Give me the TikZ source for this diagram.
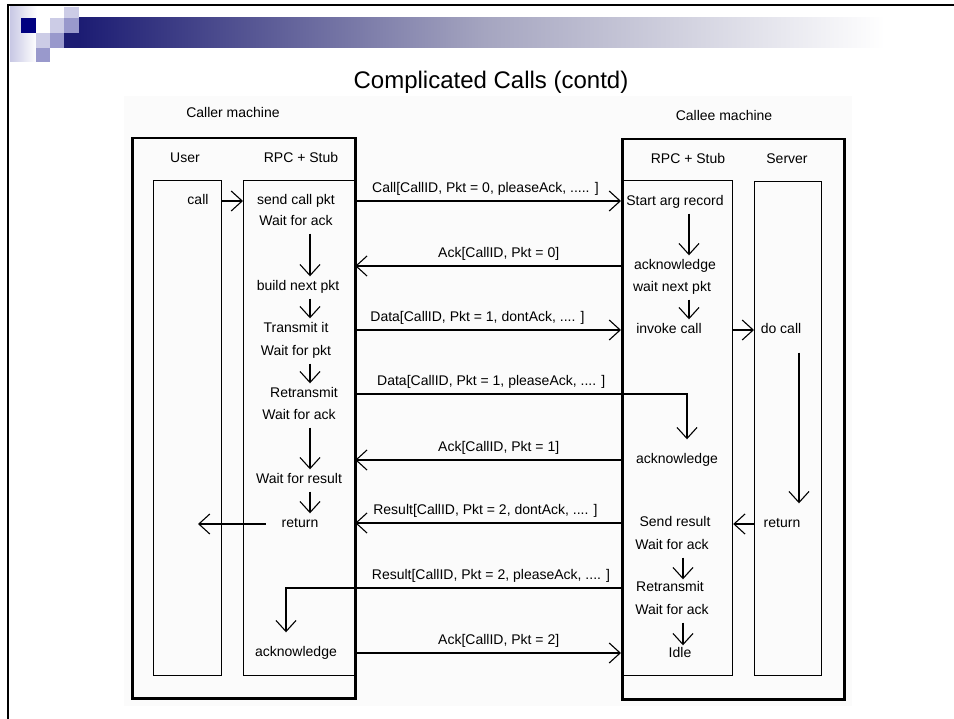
\documentclass[tikz,border=0pt]{standalone}
\usepackage{fontspec}
\setmainfont{Liberation Sans}
\usetikzlibrary{arrows.meta}

\definecolor{slidenavy}{RGB}{0,0,128}
\definecolor{barnavy}{RGB}{28,28,115}
\definecolor{barmid}{RGB}{165,165,192}
\definecolor{sqlight}{RGB}{204,204,230}
\definecolor{sqmid}{RGB}{153,153,204}
\definecolor{striplav}{RGB}{200,200,228}
\definecolor{scangray}{RGB}{251,251,251}

\begin{document}
\begin{tikzpicture}[x=1pt, y=-1pt,
    txt/.style={font=\fontsize{14}{16}\selectfont, inner sep=1pt, text height=10pt, text depth=3pt},
    lbl/.style={txt, above=3.5pt},
    machine/.style={draw, line width=2.5pt, anchor=north west, inner sep=0pt},
    box/.style={draw, line width=1.2pt, anchor=north west, inner sep=0pt},
    flow/.style={-{Straight Barb[length=11pt,width=20pt]}, line width=1.1pt, shorten <=4pt, shorten >=3pt},
    msg/.style={-{Straight Barb[length=11pt,width=20pt]}, line width=1.1pt}]
          \useasboundingbox (0,0) rectangle (954,719);

          % slide frame and header
          \shade[left color=striplav, right color=white] (10,7) rectangle (37,62);
          \shade[left color=barnavy, right color=barmid] (79,18) rectangle (485,48);
          \shade[left color=barmid, right color=white] (485,18) rectangle (885,48);
          \fill[slidenavy] (21,18) rectangle (36,33);
          \fill[sqlight] (64,7) rectangle (79,18);
          \fill[sqlight] (50,18) rectangle (64,33);
          \fill[sqmid] (64,18) rectangle (79,33);
          \fill[sqlight] (36,33) rectangle (50,48);
          \fill[sqmid] (50,33) rectangle (64,48);
          \fill[barnavy] (64,33) rectangle (79,48);
          \fill[sqmid] (36,48) rectangle (50,62);
          \draw[line width=2.5pt] (8,719) -- (8,5) -- (954,5);

          \node[font=\fontsize{24}{28}\selectfont] (title) at (491,82) {Complicated Calls (contd)};

          \fill[scangray] (124,96) rectangle (852,706);

          % caller machine
          \node[machine, minimum width=223pt, minimum height=560pt] (louter) at (131,137) {};
          \node[box, minimum width=68pt, minimum height=495pt] (luser) at (153,180) {};
          \node[box, minimum width=111pt, minimum height=495pt] (lrpc) at (243,180) {};

          \node[txt] (lcaller)   at (233,114) {Caller machine};
          \node[txt] (luserlbl)  at (185,159) {User};
          \node[txt] (lrpclbl)   at (301,159) {RPC + Stub};

          \node[txt] (call)      at (198,201) {call};
          \node[txt] (send)      at (296,201) {send call pkt};
          \node[txt] (waitack1)  at (296,222) {Wait for ack};
          \node[txt] (build)     at (298,287) {build next pkt};
          \node[txt] (transmit)  at (296,329) {Transmit it};
          \node[txt] (waitpkt)   at (296,352) {Wait for pkt};
          \node[txt] (retrans)   at (304,394) {Retransmit};
          \node[txt] (waitack2)  at (299,416) {Wait for ack};
          \node[txt] (waitres)   at (299,480) {Wait for result};
          \node[txt] (ret)       at (300,524) {return};
          \node[txt] (lack)      at (296,653) {acknowledge};

          % callee machine
          \node[machine, minimum width=222pt, minimum height=560pt] (router) at (621,138) {};
          \node[box, minimum width=111pt, minimum height=495pt] (rrpc) at (621,180) {};
          \node[box, minimum width=67pt, minimum height=494pt] (rserver) at (754,181) {};

          \node[txt] (rcallee)    at (724,117) {Callee machine};
          \node[txt] (rrpclbl)    at (688,160) {RPC + Stub};
          \node[txt] (rserverlbl) at (787,160) {Server};

          \node[txt] (start)     at (675,202) {Start arg record};
          \node[txt] (rack1)     at (675,266) {acknowledge};
          \node[txt] (waitnext)  at (672,288) {wait next pkt};
          \node[txt] (invoke)    at (669,330) {invoke call};
          \node[txt] (docall)    at (781,330) {do call};
          \node[txt] (rack2)     at (677,460) {acknowledge};
          \node[txt] (sendres)   at (675,523) {Send result};
          \node[txt] (sret)      at (782,524) {return};
          \node[txt] (rwait1)    at (672,546) {Wait for ack};
          \node[txt] (rretrans)  at (670,588) {Retransmit};
          \node[txt] (rwait2)    at (672,611) {Wait for ack};
          \node[txt] (idle)      at (680,654) {Idle};

          \coordinate (lx) at (310,0);
          \coordinate (rxa) at (689,0);
          \coordinate (rxb) at (683,0);
          \coordinate (sx) at (799,0);

          % steps inside the columns
          \draw[flow] (waitack1.south -| lx) -- (build.north -| lx);
          \draw[flow] (build.south -| lx) -- (transmit.north -| lx);
          \draw[flow] (waitpkt.south -| lx) -- (retrans.north -| lx);
          \draw[flow] (waitack2.south -| lx) -- (waitres.north -| lx);
          \draw[flow] (waitres.south -| lx) -- (ret.north -| lx);

          \draw[flow] (start.south -| rxa) -- (rack1.north -| rxa);
          \draw[flow] (waitnext.south -| rxa) -- (invoke.north -| rxa);
          \draw[flow, shorten >=1pt] (rwait1.south -| rxb) -- (rretrans.north -| rxb);
          \draw[flow, shorten >=1pt] (rwait2.south -| rxb) -- (idle.north -| rxb);
          \draw[flow, shorten <=15pt, shorten >=13pt] (docall.south -| sx) -- (sret.north -| sx);

          \draw[msg] (luser.east |- call) -- (lrpc.west |- call);
          \draw[msg] (rrpc.east |- invoke) -- (rserver.west |- invoke);
          \draw[msg] (rserver.west |- sret) -- (rrpc.east |- sret);
          \draw[msg, shorten <=15pt] (ret.west) -- (call.center |- ret);

          % packets between the machines
          \draw[msg] (lrpc.east |- send) -- (rrpc.west |- send) node[lbl, pos=0.49] {Call[CallID, Pkt = 0, pleaseAck, ..... ]};
          \draw[msg] (rrpc.west |- rack1) -- (lrpc.east |- rack1) node[lbl, pos=0.46] {Ack[CallID, Pkt = 0]};
          \draw[msg] (lrpc.east |- invoke) -- (rrpc.west |- invoke) node[lbl, pos=0.46] {Data[CallID, Pkt = 1, dontAck, .... ]};
          \draw[msg] (lrpc.east |- retrans) -| ([xshift=10pt, yshift=13pt]rack2.north) node[lbl, pos=0.205] {Data[CallID, Pkt = 1, pleaseAck, .... ]};
          \draw[msg] (rrpc.west |- rack2) -- (lrpc.east |- rack2) node[lbl, pos=0.46] {Ack[CallID, Pkt = 1]};
          \draw[msg] (rrpc.west |- sendres) -- (lrpc.east |- sendres) node[lbl, pos=0.51] {Result[CallID, Pkt = 2, dontAck, .... ]};
          \draw[msg] (rrpc.west |- rretrans) -| ([xshift=-10pt, yshift=13pt]lack.north) node[lbl, pos=0.194] {Result[CallID, Pkt = 2, pleaseAck, .... ]};
          \draw[msg] (lrpc.east |- lack) -- (rrpc.west |- lack) node[lbl, pos=0.54] {Ack[CallID, Pkt = 2]};
        \end{tikzpicture}
\end{document}
